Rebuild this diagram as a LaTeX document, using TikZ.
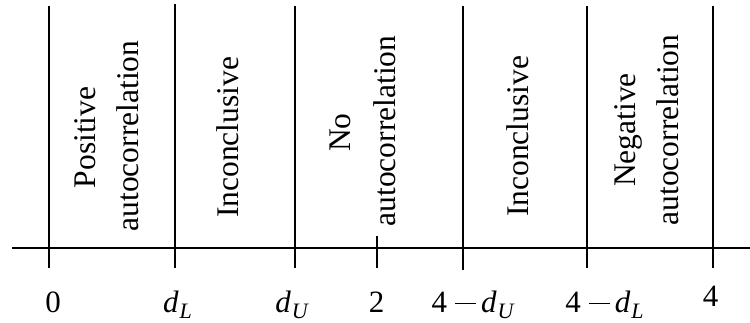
\documentclass[tikz,border=0pt]{standalone}
\usepackage{fontspec}
\setmainfont{Liberation Serif}
\newcommand{\dsub}[1]{{\fontsize{31}{31}\selectfont\itshape d}\kern1pt\raisebox{-5.5pt}{\fontsize{22}{22}\selectfont\itshape #1}}
\newcommand{\mminus}{\hspace{8pt}\rule[8.5pt]{21pt}{1.8pt}\hspace{5pt}}
\begin{document}
\begin{tikzpicture}[x=1pt,y=1pt,
  bar/.style={line width=2pt},
  region/.style={rotate=90,anchor=base,inner sep=0pt,font=\fontsize{31.5}{38}\selectfont},
  val/.style={anchor=base,inner sep=0pt,font=\fontsize{31}{36}\selectfont}]
\useasboundingbox (0,0) rectangle (750,323);
% axis
\coordinate (axL) at (12,75);
\coordinate (axR) at (750,75);
\draw[bar] (axL) -- (axR);
% boundary lines
\coordinate (b0t) at (49,317);   \coordinate (b0b) at (49,55);
\coordinate (b1t) at (175,319);  \coordinate (b1b) at (175,55);
\coordinate (b2t) at (295,317);  \coordinate (b2b) at (295,55);
\coordinate (b3t) at (463,317);  \coordinate (b3b) at (463,53);
\coordinate (b4t) at (587,317);  \coordinate (b4b) at (587,55);
\coordinate (b5t) at (713,317);  \coordinate (b5b) at (713,55);
\coordinate (m2t) at (377,87);   \coordinate (m2b) at (377,55);
\draw[bar] (b0t) -- (b0b);
\draw[bar] (b1t) -- (b1b);
\draw[bar] (b2t) -- (b2b);
\draw[bar] (b3t) -- (b3b);
\draw[bar] (b4t) -- (b4b);
\draw[bar] (b5t) -- (b5b);
\draw[bar] (m2t) -- (m2b);
% region texts
\node[region] (pos1) at (95,185.5) {Positive};
\node[region] (pos2) at (138,187) {autocorrelation};
\node[region] (inc1) at (238,185.5) {Inconclusive};
\node[region] (no1) at (350,190.5) {No};
\node[region] (no2) at (395,192) {autocorrelation};
\node[region] (inc2) at (528,186.5) {Inconclusive};
\node[region] (neg1) at (635,193) {Negative};
\node[region] (neg2) at (678,193) {autocorrelation};
% values
\node[val] (v0) at (53,10) {0};
\node[val] (vdl) at (177.5,10) {\dsub{L}};
\node[val] (vdu) at (291.5,10) {\dsub{U}};
\node[val] (v2) at (376.5,10) {2};
\node[val] (v4du) at (472.5,10) {4\mminus\dsub{U}};
\node[val] (v4dl) at (604.5,10) {4\mminus\dsub{L}};
\node[val] (v4) at (710.5,16) {4};
\end{tikzpicture}
\end{document}
